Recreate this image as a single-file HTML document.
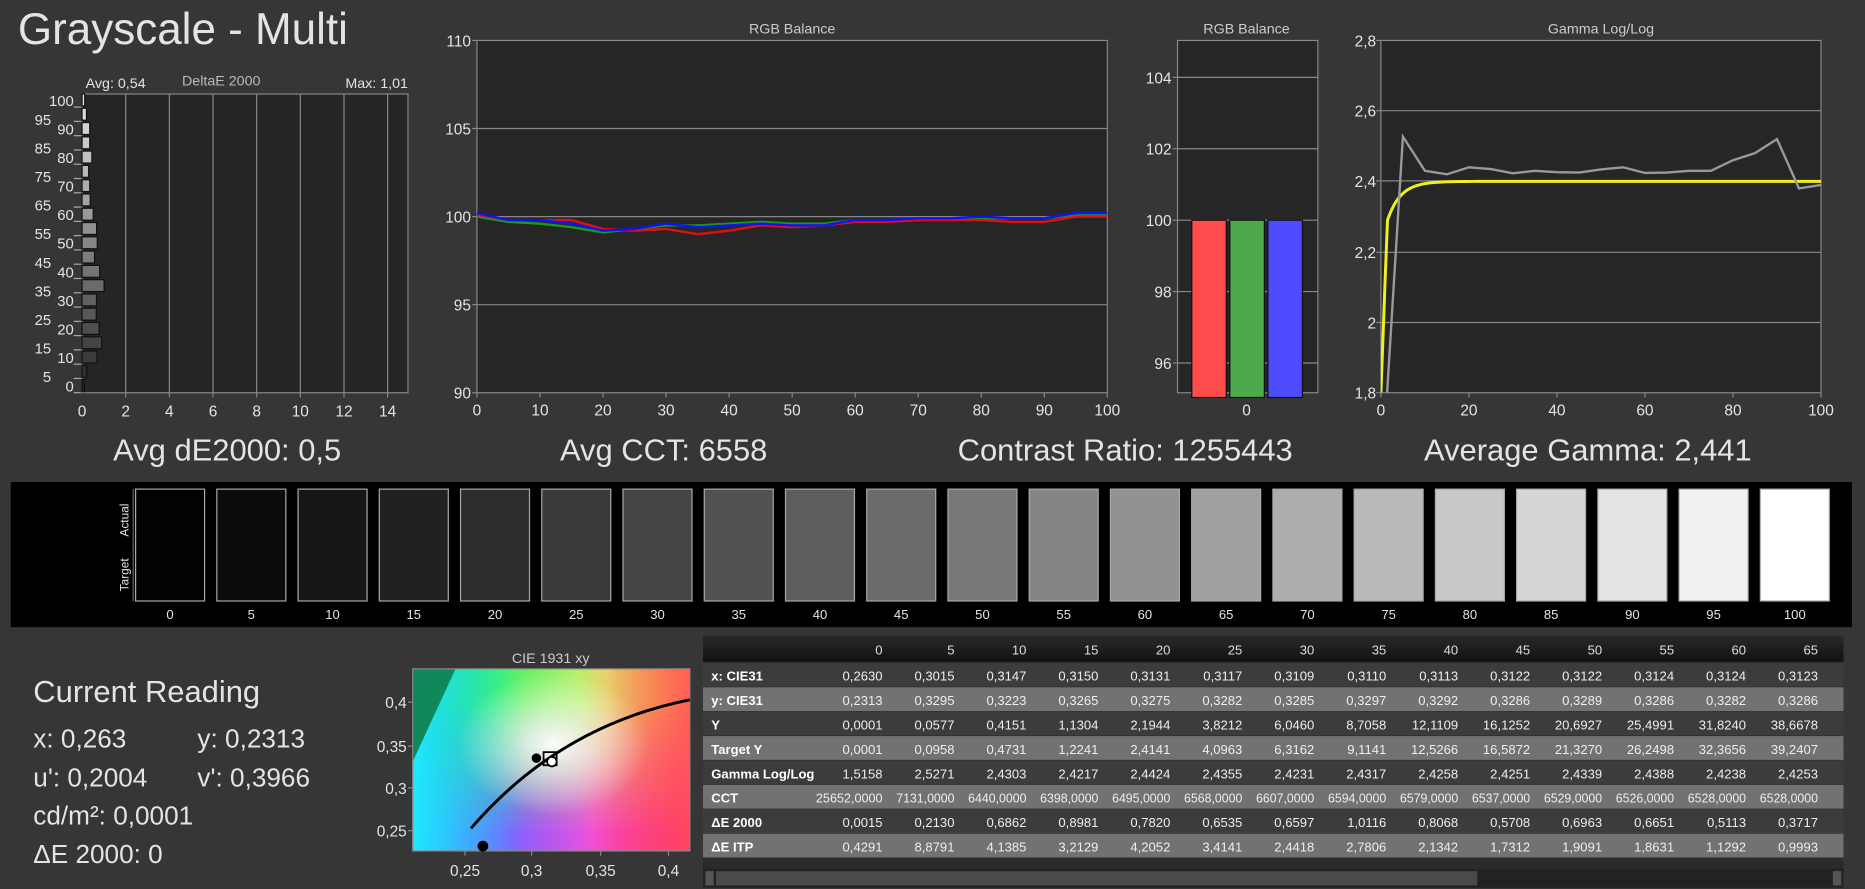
<!DOCTYPE html>
<html><head><meta charset="utf-8"><style>
html,body{margin:0;padding:0;background:#363636;overflow:hidden}
svg{display:block}
text{font-family:"Liberation Sans",sans-serif;fill:#e4e4e4}
</style></head><body>
<svg id="s" width="1865" height="889" viewBox="0 0 1568 747" preserveAspectRatio="none" xmlns="http://www.w3.org/2000/svg">
<defs>
<linearGradient id="g1" x1="0" y1="0" x2="1" y2="0"><stop offset="0" stop-color="#10c070"/><stop offset="0.3" stop-color="#40f060"/><stop offset="0.7" stop-color="#e0f070"/><stop offset="1" stop-color="#ffa030"/></linearGradient>
<linearGradient id="gb" x1="0" y1="0" x2="1" y2="0"><stop offset="0" stop-color="#3080ff"/><stop offset="0.35" stop-color="#8060ff"/><stop offset="0.65" stop-color="#f050e0"/><stop offset="1" stop-color="#ff1870"/></linearGradient>
<linearGradient id="mv" x1="0" y1="0" x2="0" y2="1"><stop offset="0.2" stop-color="#fff" stop-opacity="0"/><stop offset="0.9" stop-color="#fff" stop-opacity="1"/></linearGradient>
<mask id="mk"><rect x="347" y="562" width="233" height="153" fill="url(#mv)"/></mask>
<linearGradient id="g3" x1="0" y1="0" x2="1" y2="0"><stop offset="0" stop-color="#20e8ff" stop-opacity="1"/><stop offset="0.4" stop-color="#20e8ff" stop-opacity="0"/></linearGradient>
<linearGradient id="g6" x1="0" y1="0" x2="1" y2="0"><stop offset="0.6" stop-color="#ff5060" stop-opacity="0"/><stop offset="1" stop-color="#ff5060" stop-opacity="0.8"/></linearGradient>
<radialGradient id="g5" cx="0.5" cy="0.5" r="0.5"><stop offset="0" stop-color="#fff" stop-opacity="0.95"/><stop offset="1" stop-color="#fff" stop-opacity="0"/></radialGradient>
<linearGradient id="hd" x1="0" y1="0" x2="0" y2="1"><stop offset="0" stop-color="#2a2a2a"/><stop offset="0.5" stop-color="#1e1e1e"/><stop offset="1" stop-color="#111"/></linearGradient>
<clipPath id="tc"><rect x="591" y="534" width="959" height="212"/></clipPath>
<clipPath id="gc"><rect x="1161" y="34" width="370" height="296"/></clipPath>
<clipPath id="cc"><rect x="347" y="562" width="233" height="153"/></clipPath>
</defs>
</svg>
<script>
var s=document.getElementById('s'),h='';
function T(x,y,t,sz,a,ex){h+='<text x="'+x+'" y="'+y+'" font-size="'+sz+'" text-anchor="'+(a||'start')+'" '+(ex||'')+'>'+t+'</text>';}
function L(x1,y1,x2,y2,c,w){h+='<line x1="'+x1+'" y1="'+y1+'" x2="'+x2+'" y2="'+y2+'" stroke="'+c+'" stroke-width="'+(w||1)+'"/>';}
function R(x,y,w,hh,f,st){h+='<rect x="'+x+'" y="'+y+'" width="'+w+'" height="'+hh+'" fill="'+f+'" '+(st?'stroke="'+st+'"':'')+'/>';}
T(15,37,'Grayscale - Multi',37);
// DeltaE chart
R(69,79,274,251,'#252525','#888');
for(var k=2;k<=14;k+=2){var x=69+k*18.35;L(x,79,x,330,'#888');T(x,350,k,13,'middle');L(x,330,x,334,'#888');}
T(69,350,'0',13,'middle');
T(72,74,'Avg: 0,54',12);T(186,72,'DeltaE 2000',12,'middle','style="fill:#bbb"');T(343,74,'Max: 1,01',12,'end');
var de=[0.0015,0.213,0.686,0.898,0.782,0.65,0.66,1.01,0.807,0.57,0.696,0.665,0.511,0.372,0.35,0.3,0.45,0.35,0.35,0.2,0.12];
for(var i=0;i<=20;i++){var lv=i*5,y=324-i*12,g=Math.round(40+lv*1.9);
R(69,y-5,Math.max(2,de[i]*18.35),10,'rgb('+g+','+g+','+g+')','#111');
L(62,y+6,68,y+6,'#aaa');
if(i%2==0)T(62,y+5,lv,12.5,'end');else T(43,y+9,lv,12.5,'end');}
// RGB balance
T(666,28,'RGB Balance',12,'middle','style="fill:#ccc"');
R(401,34,530,296,'#262626','#888');
var yv=[[110,34],[105,108],[100,182],[95,256],[90,330]];
yv.forEach(function(p){if(p[0]!=110&&p[0]!=90)L(401,p[1],931,p[1],'#888');L(397,p[1],401,p[1],'#888');T(396,p[1]+5,p[0],13,'end');});
for(var k=0;k<=100;k+=10){var x=401+k*5.3;L(x,330,x,334,'#888');T(x,349,k,13,'middle');}
var rr=[100.1,99.8,99.8,99.8,99.3,99.2,99.3,99.0,99.2,99.5,99.4,99.5,99.7,99.7,99.8,99.8,99.8,99.7,99.7,100,100],
gg=[100,99.7,99.6,99.4,99.1,99.3,99.5,99.5,99.6,99.7,99.6,99.6,99.8,99.8,99.8,99.9,99.9,99.9,99.9,100.1,100.1],
bb=[100.2,99.8,99.8,99.6,99.2,99.3,99.6,99.4,99.5,99.6,99.5,99.5,99.8,99.8,99.9,99.9,100,99.9,99.9,100.2,100.2];
function PL(a,c){var p=a.map(function(v,i){return (401+i*5*5.3)+','+(182-(v-100)*14.8)}).join(' ');h+='<polyline points="'+p+'" fill="none" stroke="'+c+'" stroke-width="2"/>';}
PL(gg,'#1a9a1a');PL(rr,'#e01010');PL(bb,'#1010ff');
// RGB bars
T(1048,28,'RGB Balance',12,'middle','style="fill:#ccc"');
R(990,34,118,296,'#262626','#888');
[[104,65],[102,125],[100,185],[98,245],[96,305]].forEach(function(p){L(990,p[1],1108,p[1],'#888');L(986,p[1],990,p[1],'#888');T(985,p[1]+5,p[0],13,'end');});
R(1002,185,29,149,'#ff4d4d','#111');R(1034,185,29,149,'#4caa4c','#111');R(1066,185,29,149,'#4d4dff','#111');
T(1048,349,'0',13,'middle');
// Gamma
T(1346,28,'Gamma Log/Log',12,'middle','style="fill:#ccc"');
R(1161,34,370,296,'#262626','#888');
[[2.8,34],[2.6,93],[2.4,152],[2.2,212],[2,271],[1.8,330]].forEach(function(p){if(p[0]!=2.8&&p[0]!=1.8)L(1161,p[1],1531,p[1],'#888');L(1157,p[1],1161,p[1],'#888');T(1157,p[1]+5,String(p[0]).replace('.',','),13,'end');});
for(var k=0;k<=100;k+=20){var x=1161+k*3.7;L(x,330,x,334,'#888');T(x,349,k,13,'middle');}
var gm=[1.5158,2.527,2.43,2.42,2.44,2.435,2.423,2.43,2.426,2.425,2.434,2.44,2.424,2.425,2.43,2.43,2.46,2.48,2.52,2.38,2.39];
var gp=gm.map(function(v,i){return (1161+i*5*3.7)+','+(330-(v-1.8)*296)}).join(' ');
var yp=[];for(var t=0;t<=100;t+=0.5){var v=t<0.3?1.8:2.4-0.13*Math.exp(-(t-1)/3);if(t<1.5)v=1.8+(t/1.5)*0.5;yp.push((1161+t*3.7)+','+(330-(v-1.8)*296));}
h+='<g clip-path="url(#gc)"><polyline points="'+yp.join(' ')+'" fill="none" stroke="#f0f020" stroke-width="2.5"/><polyline points="'+gp+'" fill="none" stroke="#999" stroke-width="2"/></g>';
// big labels
T(191,387,'Avg dE2000: 0,5',26,'middle');T(558,387,'Avg CCT: 6558',26,'middle');T(946,387,'Contrast Ratio: 1255443',26,'middle');T(1335,387,'Average Gamma: 2,441',26,'middle');
// swatches
R(9,405,1548,122,'#000');
T(0,0,'Actual',10,'middle','transform="translate(108,437) rotate(-90)"');T(0,0,'Target',10,'middle','transform="translate(108,483) rotate(-90)"');
L(112,411,112,505,'#666');
for(var i=0;i<=20;i++){var x=114+i*68.3,lv=i*5,g=Math.round(2+253*Math.pow(lv/100,1.1));
R(x,411,58,94,'rgb('+g+','+g+','+g+')','#aaa');T(x+29,520,lv,11,'middle');}
// current reading
T(28,590,'Current Reading',26);
T(28,628,'x: 0,263',22);T(166,628,'y: 0,2313',22);
T(28,661,"u': 0,2004",22);T(166,661,"v': 0,3966",22);
T(28,693,'cd/m²: 0,0001',22);T(28,725,'ΔE 2000: 0',22);
// CIE
T(463,557,'CIE 1931 xy',12,'middle','style="fill:#ccc"');
h+='<g clip-path="url(#cc)">';
R(347,562,233,153,'url(#g1)');R(347,562,233,153,'url(#gb)','none" mask="url(#mk)');
R(347,562,233,153,'url(#g3)');R(347,562,233,153,'url(#g6)');
h+='<ellipse cx="465" cy="625" rx="80" ry="60" fill="url(#g5)"/>';
h+='<polygon points="347,562 383,562 347,640" fill="#11885a"/>';
h+='</g>';
R(347,562,233,153,'none','#888');
h+='<path d="M396,696 Q470,610 580,588" fill="none" stroke="#000" stroke-width="2.5"/>';
h+='<circle cx="451" cy="637" r="4" fill="#000"/><rect x="457" y="632" width="11" height="11" fill="none" stroke="#000" stroke-width="1.5"/><circle cx="464" cy="640" r="4" fill="#fff" stroke="#000" stroke-width="1.5"/><circle cx="406" cy="711" r="4.5" fill="#000"/>';
[[0.25,391],[0.3,447],[0.35,505],[0.4,562]].forEach(function(p){L(p[1],715,p[1],719,'#888');T(p[1],736,String(p[0]).replace('0.','0,'),13,'middle');});
[['0,4',590],['0,35',627],['0,3',662],['0,25',698]].forEach(function(p){L(343,p[1],347,p[1],'#888');T(342,p[1]+5,p[0],13,'end');});
// table
h+='<g clip-path="url(#tc)">';
R(591,534,959,212,'#2b2b2b');R(591,534,959,22,'url(#hd)');
var rows=[['x: CIE31','0,2630 0,3015 0,3147 0,3150 0,3131 0,3117 0,3109 0,3110 0,3113 0,3122 0,3122 0,3124 0,3124 0,3123'],
['y: CIE31','0,2313 0,3295 0,3223 0,3265 0,3275 0,3282 0,3285 0,3297 0,3292 0,3286 0,3289 0,3286 0,3282 0,3286'],
['Y','0,0001 0,0577 0,4151 1,1304 2,1944 3,8212 6,0460 8,7058 12,1109 16,1252 20,6927 25,4991 31,8240 38,6678'],
['Target Y','0,0001 0,0958 0,4731 1,2241 2,4141 4,0963 6,3162 9,1141 12,5266 16,5872 21,3270 26,2498 32,3656 39,2407'],
['Gamma Log/Log','1,5158 2,5271 2,4303 2,4217 2,4424 2,4355 2,4231 2,4317 2,4258 2,4251 2,4339 2,4388 2,4238 2,4253'],
['CCT','25652,0000 7131,0000 6440,0000 6398,0000 6495,0000 6568,0000 6607,0000 6594,0000 6579,0000 6537,0000 6529,0000 6526,0000 6528,0000 6528,0000'],
['ΔE 2000','0,0015 0,2130 0,6862 0,8981 0,7820 0,6535 0,6597 1,0116 0,8068 0,5708 0,6963 0,6651 0,5113 0,3717'],
['ΔE ITP','0,4291 8,8791 4,1385 3,2129 4,2052 3,4141 2,4418 2,7806 2,1342 1,7312 1,9091 1,8631 1,1292 0,9993']];
for(var c=0;c<14;c++)T(742+c*60.5,550,c*5,11,'end','style="fill:#ddd"');
rows.forEach(function(r,i){var y=557+i*20.5;R(591,y,959,20,i%2?'#727272':'#3c3c3c');
T(598,y+15,r[0],11,'start','font-weight="bold" style="fill:#fff"');
r[1].split(' ').forEach(function(v,c){var ex='style="fill:#eee"';if(v.length>7){var w=v.length>9?56:49;ex+=' textLength="'+w+'" lengthAdjust="spacingAndGlyphs"';T(742+c*60.5-w,y+15,v,11,'start',ex);}else T(742+c*60.5,y+15,v,11,'end',ex);});});
R(591,730,959,16,'#222');R(602,732,640,12,'#4a4a4a');R(593,732,7,12,'#555');R(1541,732,7,12,'#555');
h+='</g>';
s.innerHTML+=h;
</script>
</body></html>
